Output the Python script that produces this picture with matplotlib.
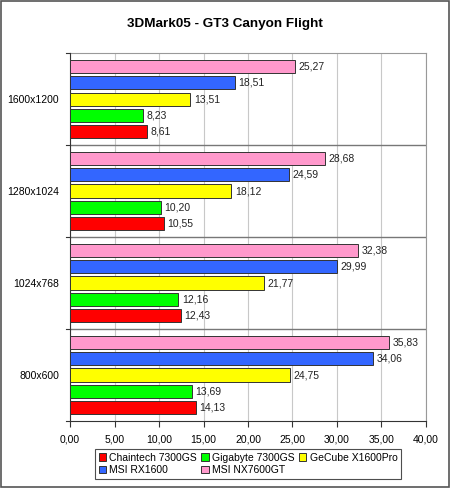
import matplotlib
matplotlib.use("Agg")
import matplotlib.pyplot as plt
from matplotlib.patches import Rectangle

plt.rcParams["font.family"] = ["Liberation Sans", "DejaVu Sans"]

# ── Data ──────────────────────────────────────────────────────────────────────
resolutions = ["1600x1200", "1280x1024", "1024x768", "800x600"]
cards = ["Chaintech 7300GS", "Gigabyte 7300GS", "GeCube X1600Pro",
         "MSI RX1600", "MSI NX7600GT"]
chaintech = [8.61, 10.55, 12.43, 14.13]
gigabyte  = [8.23, 10.20, 12.16, 13.69]
gecube    = [13.51, 18.12, 21.77, 24.75]
msi_rx    = [18.51, 24.59, 29.99, 34.06]
msi_nx    = [25.27, 28.68, 32.38, 35.83]
series = [chaintech, gigabyte, gecube, msi_rx, msi_nx]
colors = ["#FF0000", "#00FF00", "#FFFF00", "#3366FF", "#FF99CC"]
xticks = [0, 5, 10, 15, 20, 25, 30, 35, 40]

fig = plt.figure(figsize=(4.5, 4.88), dpi=100)
fig.patch.set_facecolor("white")
fig.patches.append(Rectangle((0.002, 0.002), 0.996, 0.996, transform=fig.transFigure,
                             fill=False, edgecolor="#555555", linewidth=1.2))

ax = fig.add_axes([0.1556, 0.1373, 0.791, 0.754])

n_groups = len(resolutions)
step = 0.177
height = 0.142
handles = []
# group 0 (1600x1200) at top -> y position n_groups-1
for s, (vals, col, name) in enumerate(zip(series, colors, cards)):
    offs = (s - 2) * step
    ys = [n_groups - 1 - g + offs for g in range(n_groups)]
    h = ax.barh(ys, vals, height=height, color=col, edgecolor="#333333",
                linewidth=0.7, label=name, zorder=3)
    handles.append(h)
    for y, v in zip(ys, vals):
        ax.text(v + 0.4, y, f"{v:.2f}".replace(".", ","), va="center",
                ha="left", fontsize=7.5, color="#222222", zorder=4)

ax.set_xlim(0, 40)
ax.set_ylim(-0.5, n_groups - 0.5)
ax.set_xticks(xticks)
ax.set_xticklabels([f"{t:.2f}".replace(".", ",") for t in xticks], fontsize=7.5)
ax.set_yticks(range(n_groups))
ax.set_yticklabels(resolutions[::-1], fontsize=7.5)
ax.tick_params(axis="y", length=0, pad=8)
ax.tick_params(axis="x", length=4, width=0.8, color="#333333", pad=6)

# group separators + left-axis ticks
for b in [g + 0.5 for g in range(-1, n_groups)]:
    ax.plot([-0.45, 0], [b, b], color="#333333", lw=0.8, clip_on=False, zorder=5)
for b in [0.5, 1.5, 2.5]:
    ax.axhline(b, color="#777777", lw=1.0, zorder=2)

ax.grid(axis="x", color="#C8C8C8", lw=0.8, zorder=0)
for side in ["top", "right"]:
    ax.spines[side].set_color("#999999")
    ax.spines[side].set_linewidth(0.8)
for side in ["left", "bottom"]:
    ax.spines[side].set_color("#333333")
    ax.spines[side].set_linewidth(0.8)

fig.text(0.5, 0.95, "3DMark05 - GT3 Canyon Flight", ha="center", va="center",
         fontsize=9.7, fontweight="bold")

# row-major legend order for ncol=3
order = [0, 3, 1, 4, 2]
leg = fig.legend([handles[i] for i in order], [cards[i] for i in order],
                 loc="lower center", bbox_to_anchor=(0.551, 0.008), ncol=3,
                 fontsize=7.5, frameon=True, fancybox=False, handlelength=0.7,
                 handleheight=0.7, handletextpad=0.3, columnspacing=0.45,
                 borderpad=0.35, labelspacing=0.25)
leg.get_frame().set_edgecolor("#222222")
leg.get_frame().set_linewidth(0.8)

fig.savefig("out.png", dpi=100)
